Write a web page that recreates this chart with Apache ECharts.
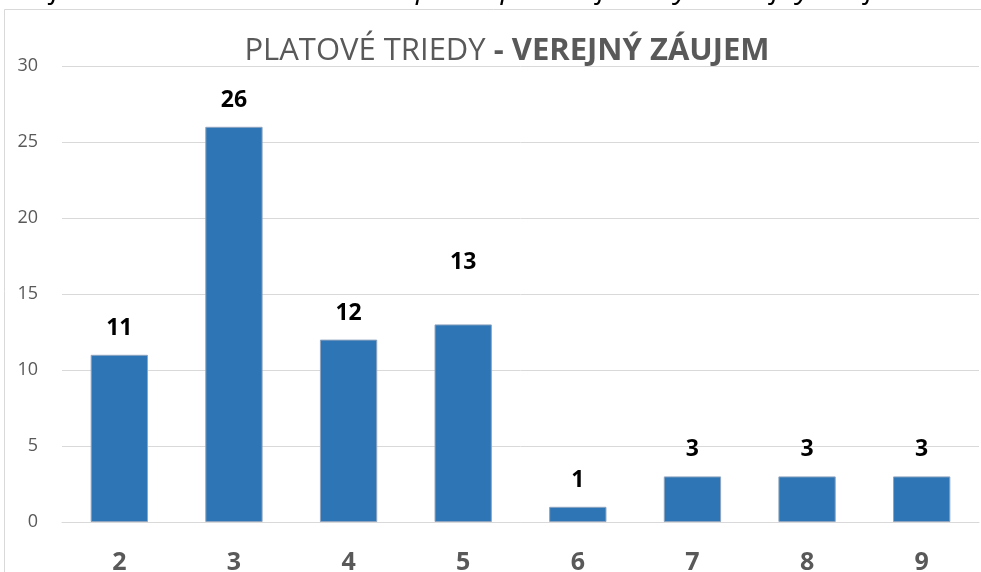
<!DOCTYPE html>
<html>
<head>
<meta charset="utf-8">
<script src="https://cdn.jsdelivr.net/npm/echarts@6/dist/echarts.min.js"></script>
<style>
  html, body { margin: 0; padding: 0; background: #fff; }
  #chart { width: 981px; height: 572px; }
</style>
</head>
<body>
<div id="chart"></div>
<script>
// platové triedy a počty
var triedy = ['2', '3', '4', '5', '6', '7', '8', '9'];
var pocty = [11, 26, 12, 13, 1, 3, 3, 3];
var yTicks = [0, 5, 10, 15, 20, 25, 30];

var myChart = echarts.init(document.getElementById('chart'));

var barData = pocty.map(function (v, i) {
    var item = { value: v };
    // popisok pri 13 je posunutý vyššie
    if (triedy[i] === '5') {
        item.label = { distance: 50 };
    }
    return item;
});

var option = {
    animation: false,
    textStyle: { fontFamily: 'Open Sans, sans-serif' },
    graphic: [
        {
            type: 'rect',
            shape: { x: 4.5, y: 9.5, width: 1000, height: 600 },
            style: { fill: 'none', stroke: '#D9D9D9', lineWidth: 1 },
            silent: true
        },
        {
            type: 'text',
            left: 2,
            top: -26,
            style: {
                text: 'Graf č. 14 Počet zamestnancov podľa platovej triedy - Verejný záujem',
                font: 'italic 30px "Open Sans", sans-serif',
                fill: '#000'
            }
        }
    ],
    title: {
        text: '{n|PLATOVÉ TRIEDY }{b|- VEREJNÝ ZÁUJEM}',
        left: 502,
        textAlign: 'center',
        top: 31,
        textStyle: {
            fontWeight: 'normal',
            rich: {
                n: { fontSize: 31, color: '#595959', fontWeight: 'normal', fontFamily: 'Open Sans, sans-serif' },
                b: { fontSize: 31, color: '#595959', fontWeight: 'bold', fontFamily: 'Open Sans, sans-serif' }
            }
        }
    },
    grid: { left: 62, right: 2, top: 66, bottom: 50, outerBoundsMode: 'none' },
    xAxis: {
        type: 'category',
        data: triedy,
        axisLine: { lineStyle: { color: '#D9D9D9' } },
        axisTick: { show: false },
        axisLabel: { color: '#595959', fontSize: 25, fontWeight: 'bold', margin: 28 }
    },
    yAxis: {
        type: 'value',
        min: yTicks[0],
        max: yTicks[yTicks.length - 1],
        interval: 5,
        axisLine: { show: false },
        axisTick: { show: false },
        splitLine: { lineStyle: { color: '#D9D9D9' } },
        axisLabel: { color: '#595959', fontSize: 18, margin: 24 }
    },
    series: [{
        type: 'bar',
        data: barData,
        barWidth: '50%',
        itemStyle: { color: '#2E75B6', borderColor: '#8FA5C0', borderWidth: 1 },
        label: {
            show: true,
            position: 'top',
            distance: 15,
            color: '#000',
            fontSize: 23,
            fontWeight: 'bold'
        }
    }]
};

myChart.setOption(option);
</script>
</body>
</html>
